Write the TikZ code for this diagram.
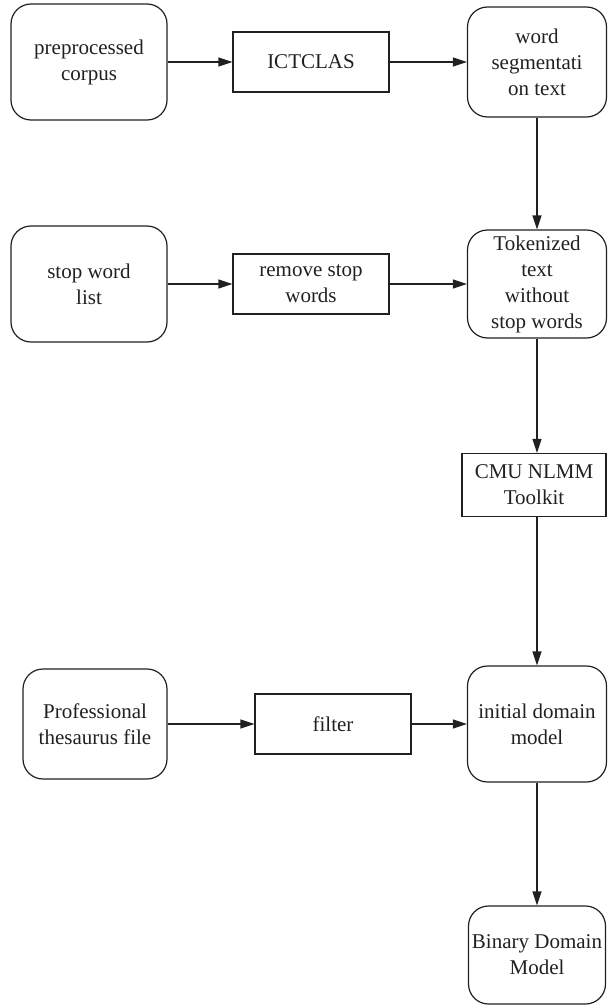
\documentclass[tikz,border=0pt]{standalone}
\usepackage{fontspec}
\setmainfont{Liberation Serif}
\usetikzlibrary{arrows.meta}
\definecolor{ink}{HTML}{231F20}
\begin{document}
\begin{tikzpicture}[x=1pt,y=-1pt,
  every node/.style={inner sep=0pt, align=center, text=ink,
    font=\fontsize{21}{26}\selectfont},
  rbox/.style={draw=ink, line width=1.2pt, rounded corners=20pt},
  sbox/.style={draw=ink, line width=1.2pt},
  flow/.style={draw=ink, line width=1.2pt,
    -{Triangle[length=14pt,width=9pt]}}]
\useasboundingbox (0,0) rectangle (608,1006);

% first row
\node[rbox, minimum width=156pt, minimum height=116pt] (pre) at (89,62) {preprocessed\\corpus};
\node[sbox, minimum width=156pt, minimum height=60pt] (ict) at (311,62) {ICTCLAS};
\node[rbox, minimum width=139pt, minimum height=110pt] (wseg) at (537,62) {word\\segmentati\\on text};

% second row
\node[rbox, minimum width=156pt, minimum height=116pt] (swl) at (89,284) {stop word\\list};
\node[sbox, minimum width=156pt, minimum height=60pt] (rsw) at (311,284) {remove stop\\words};
\node[rbox, minimum width=139pt, minimum height=108pt] (tok) at (537,284) {Tokenized\\text\\without\\stop words};

% language model toolkit
\node[sbox, minimum width=144pt, minimum height=63pt] (cmu) at (534,485) {CMU NLMM\\Toolkit};

% third row
\node[rbox, minimum width=144pt, minimum height=110pt] (prof) at (95,724) {Professional\\thesaurus file};
\node[sbox, minimum width=156pt, minimum height=60pt] (filt) at (333,724) {filter};
\node[rbox, minimum width=139pt, minimum height=116pt] (idm) at (537,724) {initial domain\\model};

% final model
\node[rbox, minimum width=137pt, minimum height=98pt] (bdm) at (537,955) {Binary Domain\\Model};

% connectors
\draw[flow] (pre) -- (ict);
\draw[flow] (ict) -- (wseg);
\draw[flow] (swl) -- (rsw);
\draw[flow] (rsw) -- (tok);
\draw[flow] (prof) -- (filt);
\draw[flow] (filt) -- (idm);
\draw[flow] (wseg.south) -- (wseg.south |- tok.north);
\draw[flow] (tok.south) -- (tok.south |- cmu.north);
\draw[flow] (tok.south |- cmu.south) -- (tok.south |- idm.north);
\draw[flow] (idm.south) -- (idm.south |- bdm.north);
\end{tikzpicture}
\end{document}
